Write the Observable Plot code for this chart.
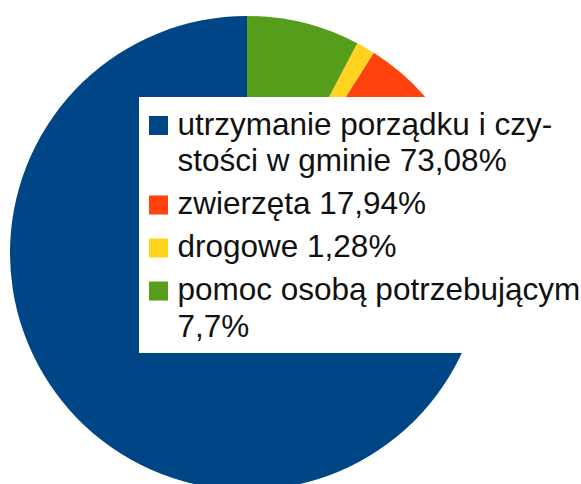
<!DOCTYPE html>
<html><head><meta charset="utf-8">
<script src="https://cdn.jsdelivr.net/npm/d3@7"></script>
<script src="https://cdn.jsdelivr.net/npm/@observablehq/plot@0.6"></script>
<style>html,body{margin:0;padding:0;background:#fff;overflow:hidden}</style>
</head><body><div id="chart"></div>
<script>
const categories = ["utrzymanie porządku i czystości w gminie", "zwierzęta", "drogowe", "pomoc osobą potrzebującym"];
const values = [73.08, 17.94, 1.28, 7.7];
const labels = ["utrzymanie porządku i czy-\nstości w gminie 73,08%", "zwierzęta 17,94%", "drogowe 1,28%", "pomoc osobą potrzebującym\n7,7%"];
const colors = ["#004586", "#ff420e", "#ffd320", "#579d1c"];

const W = 581, H = 484;
const cx = 247, cy = 253, R = 237;

const data = categories.map((c, i) => ({category: c, value: values[i], label: labels[i]}));
const arcs = d3.pie().sort(null).value(d => d.value).startAngle(0).endAngle(-2 * Math.PI)(data);
const arcGen = d3.arc().innerRadius(0).outerRadius(R);

// legend layout
const fontSize = 31.5, lineH = 36.5, gap = 6.5, firstBase = 134;
let base = firstBase;
const legend = data.map(d => {
  const n = d.label.split("\n").length;
  const first = base, last = base + (n - 1) * lineH;
  base = last + lineH + gap;
  return {...d, first, last};
});

function pieMark(index, scales) {
  const g = d3.create("svg:g").attr("transform", `translate(${cx},${cy})`);
  g.selectAll("path").data(arcs).join("path")
    .attr("d", arcGen)
    .attr("fill", a => scales.color(a.data.category));
  return g.node();
}

const chart = Plot.plot({
  width: W, height: H,
  margin: 0,
  x: {type: "identity", axis: null},
  y: {type: "identity", axis: null},
  color: {domain: categories, range: colors},
  style: {background: "white"},
  marks: [
    pieMark,
    Plot.rect([0], {x1: 139, x2: W, y1: 97, y2: 353, fill: "white"}),
    Plot.rect(legend, {x1: 149, x2: 168, y1: d => d.first - 18, y2: d => d.first + 1, fill: "category"}),
    Plot.text(legend, {
      x: 177, y: "last", text: "label",
      lineAnchor: "bottom", textAnchor: "start",
      lineHeight: lineH / fontSize,
      fontSize, fontFamily: "Liberation Sans, Arial, sans-serif", fill: "#111"
    })
  ]
});
document.getElementById("chart").appendChild(chart);
</script>
</body></html>
